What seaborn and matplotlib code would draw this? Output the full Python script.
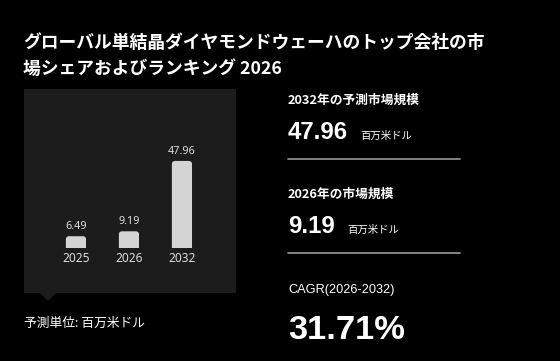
import matplotlib
matplotlib.use("Agg")
import matplotlib.pyplot as plt
import seaborn as sns
from matplotlib.patches import FancyBboxPatch, Polygon, Rectangle
from matplotlib.lines import Line2D

years = ["2025", "2026", "2032"]
values = [6.49, 9.19, 47.96]
title = "グローバル単結晶ダイヤモンドウェーハのトップ会社の市\n場シェアおよびランキング 2026"
unit = "百万米ドル"
forecast_label = "2032年の予測市場規模"
forecast_value = "47.96"
current_label = "2026年の市場規模"
current_value = "9.19"
cagr_label = "CAGR(2026-2032)"
cagr_value = "31.71%"
footnote = "予測単位: 百万米ドル"

sns.set_style("dark")
plt.rcParams["font.family"] = ["Noto Sans CJK JP", "DejaVu Sans"]

W, H = 560, 361
fig = plt.figure(figsize=(W / 100, H / 100), dpi=100, facecolor="black")


def fx(px):
    return px / W


def fy(py):
    return 1 - py / H


panel = "#1c1c1c"
ax = fig.add_axes([fx(24), fy(293), fx(212), 204 / H])
sns.barplot(x=years, y=values, ax=ax, color="#d4d4d4", width=0.38,
            saturation=1, edgecolor="none")
ax.set_facecolor(panel)
ax.set_xlim(-0.98, 3.02)
ax.set_ylim(-24.8, 87.6)
ax.set_xticks([])
ax.set_yticks([])
ax.set_xlabel("")
ax.set_ylabel("")
ax.grid(False)
for s in ax.spines.values():
    s.set_visible(False)

# rounded tops
clip = Rectangle((-1, 0), 5, 200, transform=ax.transData)
for p in list(ax.patches):
    x, w, h = p.get_x(), p.get_width(), p.get_height()
    p.remove()
    fb = FancyBboxPatch((x, -3), w, h + 3,
                        boxstyle="round,pad=0,rounding_size=0.06",
                        mutation_aspect=29, facecolor="#d4d4d4",
                        edgecolor="none")
    ax.add_patch(fb)
    fb.set_clip_path(clip)

for i, (yr, v) in enumerate(zip(years, values)):
    ax.annotate(f"{v:.2f}", (i, v), xytext=(0, 3), textcoords="offset points",
                ha="center", va="bottom", color="#dddddd", fontsize=7.8,
                family=["Noto Sans", "DejaVu Sans"])
    ax.annotate(yr, (i, 0), xytext=(0, -3), textcoords="offset points",
                ha="center", va="top", color="#dddddd", fontsize=8.6,
                family=["Noto Sans", "DejaVu Sans"])

# pointer triangle under panel
fig.add_artist(Polygon([(fx(40), fy(293)), (fx(56), fy(293)), (fx(48), fy(301))],
                       closed=True, transform=fig.transFigure,
                       facecolor=panel, edgecolor="none"))

fig.text(fx(23), fy(74), title, color="white", fontsize=12.8,
         fontweight="bold", ha="left", va="baseline", linespacing=1.55)

fig.text(fx(24), fy(327), footnote, color="white", fontsize=9.2,
         ha="left", va="baseline")

num_font = ["Liberation Sans", "Noto Sans CJK JP"]
fig.text(fx(288), fy(104), forecast_label, color="white", fontsize=9.2,
         fontweight="bold", ha="left", va="baseline")
fig.text(fx(288), fy(139), forecast_value, color="white", fontsize=17.3,
         fontweight="bold", ha="left", va="baseline", family=num_font)
fig.text(fx(360), fy(139), unit, color="white", fontsize=7.5,
         ha="left", va="baseline")
fig.add_artist(Line2D([fx(288), fx(460)], [fy(159), fy(159)],
                      transform=fig.transFigure, color="#9a9a9a", lw=1.2))

fig.text(fx(288), fy(198), current_label, color="white", fontsize=9.2,
         fontweight="bold", ha="left", va="baseline")
fig.text(fx(288), fy(233), current_value, color="white", fontsize=17.3,
         fontweight="bold", ha="left", va="baseline", family=num_font)
fig.text(fx(347), fy(233), unit, color="white", fontsize=7.5,
         ha="left", va="baseline")
fig.add_artist(Line2D([fx(288), fx(460)], [fy(253), fy(253)],
                      transform=fig.transFigure, color="#9a9a9a", lw=1.2))

fig.text(fx(288), fy(293), cagr_label, color="white", fontsize=9.2,
         ha="left", va="baseline", family=num_font)
fig.text(fx(288), fy(339), cagr_value, color="white", fontsize=24.8,
         fontweight="bold", ha="left", va="baseline", family=num_font)

fig.savefig("out.png", dpi=100, facecolor="black")
